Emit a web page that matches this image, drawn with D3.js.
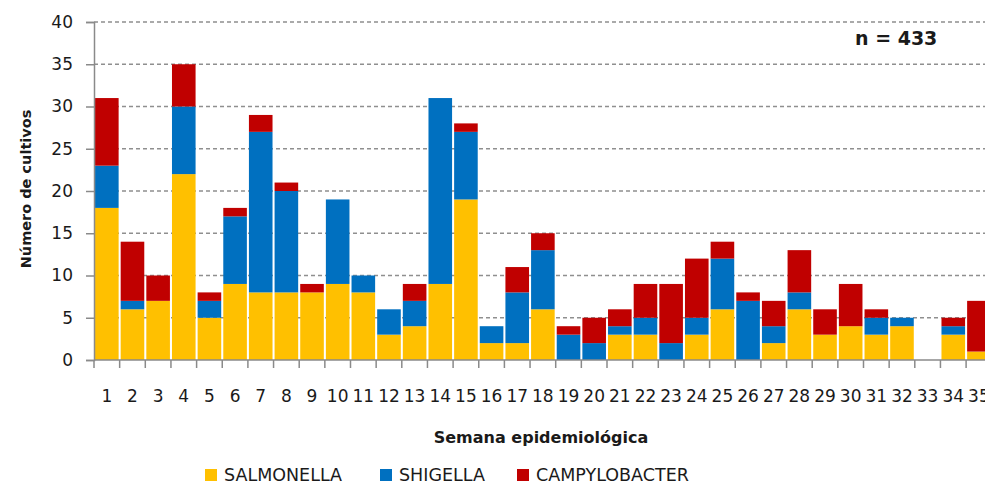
<!DOCTYPE html>
<html>
<head>
<meta charset="utf-8">
<script src="https://cdn.jsdelivr.net/npm/d3@7/dist/d3.min.js"></script>
<style>
  body { margin: 0; background: #fff; overflow: hidden; }
  text { font-family: "DejaVu Sans", sans-serif; fill: #1a1a1a; }
</style>
</head>
<body>
<script>
// weeks 1..35
var weeks = d3.range(1, 36);
var salmonella    = [18, 6, 7, 22, 5, 9, 8, 8, 8, 9, 8, 3, 4, 9, 19, 2, 2, 6, 0, 0, 3, 3, 0, 3, 6, 0, 2, 6, 3, 4, 3, 4, 0, 3, 1];
var shigella      = [ 5, 1, 0,  8, 2, 8,19,12, 0,10, 2, 3, 3,22,  8, 2, 6, 7, 3, 2, 1, 2, 2, 2, 6, 7, 2, 2, 0, 0, 2, 1, 0, 1, 0];
var campylobacter = [ 8, 7, 3,  5, 1, 1, 2, 1, 1, 0, 0, 0, 2, 0,  1, 0, 3, 2, 1, 3, 2, 4, 7, 7, 2, 1, 3, 5, 3, 5, 1, 0, 0, 1, 6];
var seriesNames = ["SALMONELLA", "SHIGELLA", "CAMPYLOBACTER"];
var colors = ["#FFC000", "#0070C0", "#C00000"];
var yTicks = [0, 5, 10, 15, 20, 25, 30, 35, 40];

var w = 985, h = 485;

var rows = weeks.map(function(wk, i) {
  return { week: wk, SALMONELLA: salmonella[i], SHIGELLA: shigella[i], CAMPYLOBACTER: campylobacter[i] };
});

var stack = d3.stack().keys(seriesNames)(rows);

var svg = d3.select("body").append("svg")
    .attr("width", w)
    .attr("height", h);

var x = d3.scaleBand()
    .domain(weeks)
    .range([94, 94 + 35 * 25.65])
    .paddingInner(0.08)
    .paddingOuter(0.04);

var y = d3.scaleLinear()
    .domain([0, 40])
    .range([360, 22]);

// gridlines
svg.append("g")
  .selectAll("line")
  .data(yTicks.filter(function(d) { return d > 0; }))
  .enter().append("line")
    .attr("x1", 94)
    .attr("x2", w)
    .attr("y1", function(d) { return y(d); })
    .attr("y2", function(d) { return y(d); })
    .attr("stroke", "#8f8f8f")
    .attr("stroke-width", 1.3)
    .attr("stroke-dasharray", "4,3");

// bars
svg.append("g")
  .selectAll("g")
  .data(stack)
  .enter().append("g")
    .attr("fill", function(d, i) { return colors[i]; })
  .selectAll("rect")
  .data(function(d) { return d; })
  .enter().append("rect")
    .attr("x", function(d) { return x(d.data.week); })
    .attr("width", x.bandwidth())
    .attr("y", function(d) { return y(d[1]); })
    .attr("height", function(d) { return y(d[0]) - y(d[1]); });

// y axis
var yAxis = svg.append("g")
    .attr("transform", "translate(94,0)")
    .call(d3.axisLeft(y).tickValues(yTicks).tickSize(8).tickPadding(13));
yAxis.select(".domain").attr("stroke", "#8a8a8a").attr("stroke-width", 1.5);
yAxis.selectAll(".tick line").attr("stroke", "#8a8a8a").attr("stroke-width", 1.5);
yAxis.selectAll(".tick text")
    .style("font-family", "DejaVu Sans")
    .style("font-size", "17px")
    .attr("fill", "#1a1a1a");

// x axis line + ticks at band boundaries
var step = x.step();
var bounds = d3.range(0, 36).map(function(i) { return 94 + i * step; });
svg.append("line")
    .attr("x1", 94).attr("x2", w)
    .attr("y1", 360).attr("y2", 360)
    .attr("stroke", "#8a8a8a").attr("stroke-width", 1.5);
svg.append("g")
  .selectAll("line")
  .data(bounds)
  .enter().append("line")
    .attr("x1", function(d) { return d; })
    .attr("x2", function(d) { return d; })
    .attr("y1", 360).attr("y2", 368)
    .attr("stroke", "#8a8a8a").attr("stroke-width", 1.5);

svg.append("g")
  .selectAll("text")
  .data(weeks)
  .enter().append("text")
    .attr("x", function(d) { return x(d) + x.bandwidth() / 2; })
    .attr("y", 402)
    .attr("text-anchor", "middle")
    .style("font-size", "17px")
    .text(function(d) { return d; });

// axis titles
svg.append("text")
    .attr("x", 541)
    .attr("y", 443)
    .attr("text-anchor", "middle")
    .style("font-size", "16px")
    .style("font-weight", "bold")
    .text("Semana epidemiológica");

svg.append("text")
    .attr("transform", "translate(31,189) rotate(-90)")
    .attr("text-anchor", "middle")
    .style("font-size", "14.5px")
    .style("font-weight", "bold")
    .text("Número de cultivos");

svg.append("text")
    .attr("x", 855)
    .attr("y", 45)
    .style("font-size", "19px")
    .style("font-weight", "bold")
    .text("n = 433");

// legend
var legendX = [205, 380, 517];
var legend = svg.append("g")
  .selectAll("g")
  .data(seriesNames)
  .enter().append("g")
    .attr("transform", function(d, i) { return "translate(" + legendX[i] + ",469)"; });
legend.append("rect")
    .attr("width", 12).attr("height", 12)
    .attr("fill", function(d, i) { return colors[i]; });
legend.append("text")
    .attr("x", 19)
    .attr("y", 12)
    .style("font-size", "17.5px")
    .text(function(d) { return d; });
</script>
</body>
</html>
